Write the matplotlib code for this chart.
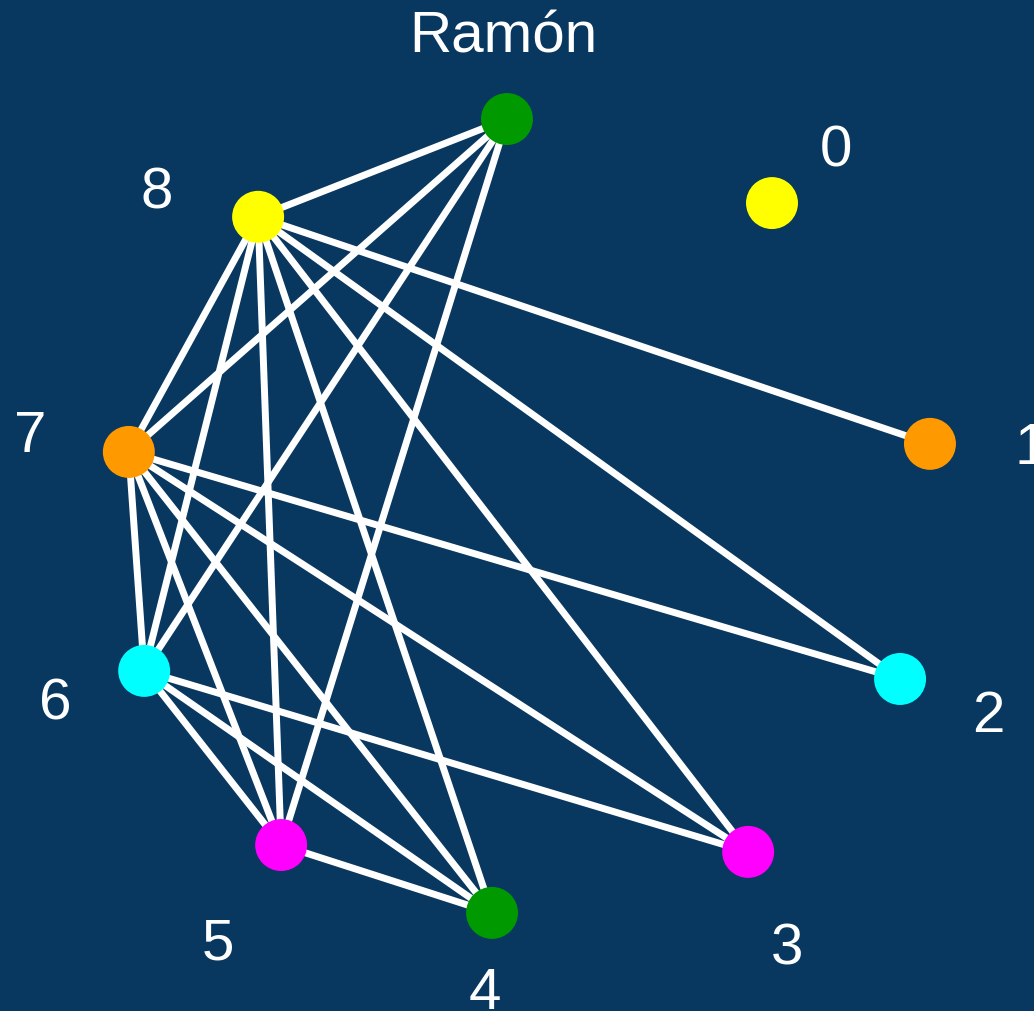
import numpy as np
import matplotlib.pyplot as plt

# graph data
nodes = [0, 1, 2, 3, 4, 5, 6, 7, 8, 9]
node_colors = ['#ffff00', '#ff9900', '#00ffff', '#ff00ff', '#009900',
               '#ff00ff', '#00ffff', '#ff9900', '#ffff00', '#009900']
# layout (unit circle, slightly jittered)
node_x = [0.599, 0.990, 0.916, 0.540, -0.094, -0.616, -0.955, -0.993, -0.673, -0.057]
node_y = [0.782, 0.186, -0.396, -0.824, -0.975, -0.807, -0.376, 0.166, 0.748, 0.990]
# label anchors (label 9 sits under the title)
label_x = [0.757, 1.240, 1.134, 0.636, -0.111, -0.772, -1.176, -1.238, -0.923, -0.067]
label_y = [0.911, 0.176, -0.488, -1.064, -1.173, -1.050, -0.456, 0.205, 0.807, 1.200]
edges = [(8, 9), (8, 1), (8, 2), (8, 3), (8, 4), (8, 5), (8, 6), (8, 7),
         (9, 7), (9, 6), (9, 5),
         (7, 2), (7, 3), (7, 4), (7, 5), (7, 6),
         (6, 3), (6, 4), (6, 5),
         (5, 4)]
title = 'Ramón'

bg = '#08375f'
W, H = 1034, 1012
cx, cy, R = 530, 520, 404  # pixel centre / radius of the layout

fig = plt.figure(figsize=(W / 100, H / 100), dpi=100, facecolor=bg)
ax = fig.add_axes([0, 0, 1, 1])
ax.set_facecolor(bg)
ax.set_xlim(-cx / R, (W - cx) / R)
ax.set_ylim(-(H - cy) / R, cy / R)
ax.axis('off')

for a, b in edges:
    ax.plot([node_x[a], node_x[b]], [node_y[a], node_y[b]],
            color='white', lw=5, solid_capstyle='butt', zorder=1)

ax.scatter(node_x, node_y, s=1400, c=node_colors, linewidths=0, zorder=2)

for n in nodes:
    ax.text(label_x[n], label_y[n], str(n), color='white',
            fontsize=42, family='Liberation Sans', ha='center', va='center',
            zorder=3)

ax.text((503 - cx) / R, (cy - 38) / R, title, color='white', fontsize=42,
        family='Liberation Sans', ha='center', va='center', zorder=4,
        bbox=dict(facecolor=bg, edgecolor='none', pad=6))

fig.savefig('out.png', dpi=100, facecolor=bg)
